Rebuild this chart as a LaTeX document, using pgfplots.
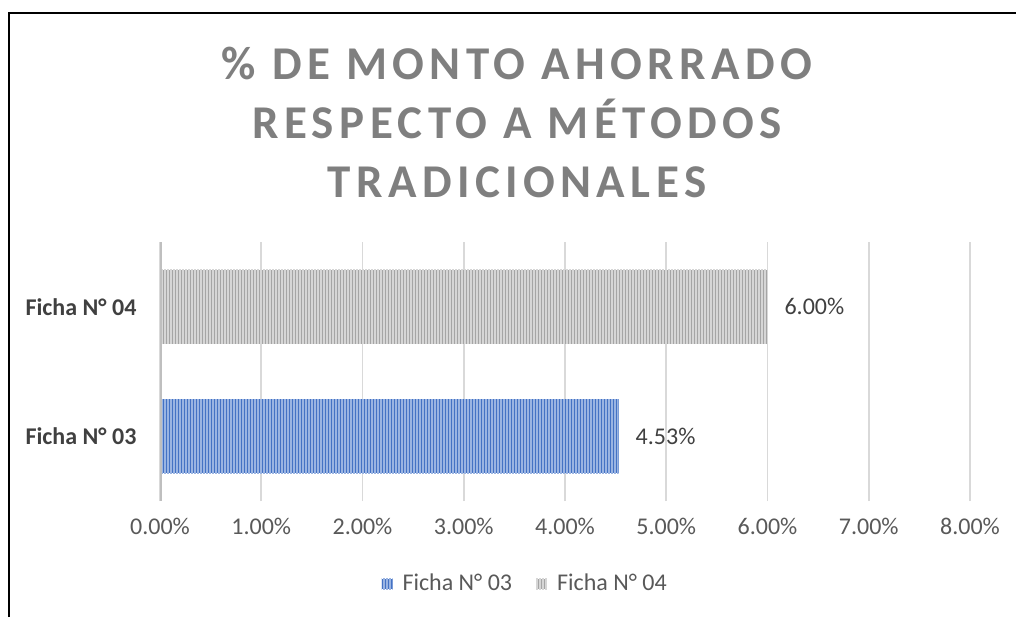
\documentclass[border=0pt]{standalone}
\usepackage{fontspec}
\setmainfont{Carlito}
\usepackage{pgfplots}
\pgfplotsset{compat=1.18}
\usetikzlibrary{patterns.meta}
\definecolor{bblue}{HTML}{4472C4}
\definecolor{lblue}{HTML}{9AB4E2}
\definecolor{bgray}{HTML}{A5A5A5}
\definecolor{lgray}{HTML}{D6D6D6}
\definecolor{titlegray}{HTML}{7F7F7F}
\definecolor{tickgray}{HTML}{595959}
\definecolor{labgray}{HTML}{404040}
\begin{document}
\begin{tikzpicture}
\path[use as bounding box] (0,0) rectangle (508pt,308.5pt);
\draw[black, line width=0.9pt] (4.5pt,0) -- (4.5pt,302pt) -- (508pt,302pt);
\begin{axis}[
  at={(80pt,58pt)}, anchor=south west,
  scale only axis, width=405pt, height=129.5pt,
  xbar, bar width=0.575, bar shift=0pt,
  xmin=0, xmax=8, ymin=-0.5, ymax=1.5,
  xtick={0,1,...,8},
  ytick={0,1},
  yticklabels={Ficha N° 03, Ficha N° 04},
  y tick label style={font=\fontsize{12pt}{14pt}\selectfont\bfseries, color=labgray, xshift=-4pt},
  x tick label style={font=\fontsize{12pt}{14pt}\selectfont, color=tickgray, yshift=-5pt},
  /pgf/number format/assume math mode=true,
  xticklabel={\pgfmathprintnumber[fixed,fixed zerofill,precision=2]{\tick}\%},
  axis line style={draw=none},
  tick style={draw=none},
  xmajorgrids,
  major grid style={color=black!15, line width=0.8pt},
  point meta=x,
  nodes near coords={\pgfmathprintnumber[fixed,fixed zerofill,precision=2,assume math mode=true]{\pgfplotspointmeta}\%},
  every node near coord/.append style={anchor=west, xshift=5pt, font=\fontsize{12pt}{14pt}\selectfont, color=labgray},
  legend style={draw=none, at={(0.452,-0.32)}, anchor=center, legend columns=2,
    font=\fontsize{12pt}{14pt}\selectfont, text=tickgray,
    /tikz/every odd column/.append style={column sep=3pt},
    /tikz/every even column/.append style={column sep=10pt}},
  legend image code/.code={\path[#1] (0pt,-2.6pt) rectangle (5.5pt,2.6pt);},
]
\addplot[draw=none, fill=bblue, postaction={pattern={Lines[angle=90,distance=1.5pt,line width=0.55pt]}, pattern color=lblue}] coordinates {(4.53,0)};
\addlegendentry{Ficha N° 03}
\addplot[draw=none, fill=bgray, postaction={pattern={Lines[angle=90,distance=1.5pt,line width=0.55pt]}, pattern color=lgray}] coordinates {(6.00,1)};
\addlegendentry{Ficha N° 04}
\draw[color=black!25, line width=2pt] (axis cs:0,-0.5) -- (axis cs:0,1.5);
\end{axis}
\begin{scope}[every node/.style={anchor=base, inner sep=0pt, color=titlegray, font=\fontsize{23.5pt}{28pt}\selectfont\bfseries\addfontfeature{LetterSpace=11.5}}]
\node at (258.5pt,268.5pt) {\% DE MONTO AHORRADO};
\node at (258.5pt,239.25pt) {RESPECTO A MÉTODOS};
\node at (258.5pt,210pt) {TRADICIONALES};
\end{scope}
\end{tikzpicture}
\end{document}
